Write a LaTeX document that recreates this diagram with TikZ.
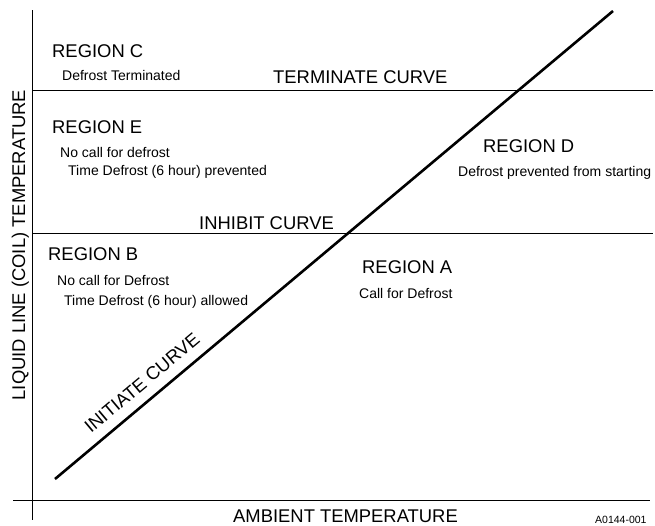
\documentclass[tikz,border=0pt]{standalone}
\usepackage{fontspec}
\setmainfont{Liberation Sans}
\usetikzlibrary{positioning}

\begin{document}
\begin{tikzpicture}[x=1pt, y=-1pt, inner sep=0pt,
    big/.style={font=\fontsize{18.4}{20}\selectfont, anchor=base west},
    small/.style={font=\fontsize{14}{16}\selectfont, anchor=base west},
    axis/.style={line width=1pt},
    curve/.style={line width=2.6pt}]

    \useasboundingbox (0,0) rectangle (655,525);

    % axes
    \coordinate (y_top) at (32,10);
    \coordinate (y_bot) at (32,520);
    \coordinate (x_left) at (13,500);
    \coordinate (x_right) at (650,500);
    \draw[axis] (y_top) -- (y_bot);
    \draw[axis] (x_left) -- (x_right);

    % terminate and inhibit curves
    \coordinate (term_l) at (32,90);
    \coordinate (term_r) at (653,90);
    \coordinate (inhib_l) at (32,233);
    \coordinate (inhib_r) at (653,233);
    \draw[axis] (term_l) -- (term_r);
    \draw[axis] (inhib_l) -- (inhib_r);

    % initiate curve
    \coordinate (init_start) at (55,479);
    \coordinate (init_end) at (613,11);
    \draw[curve] (init_start) -- (init_end);
    \node[font=\fontsize{18.4}{20}\selectfont, rotate=40] (init_label) at (142,383) {INITIATE CURVE};

    % regions
    \node[big] (region_c) at (52,57) {REGION C};
    \node[small] (c_text) at (62,80) {Defrost Terminated};
    \node[big] (term_label) at (273,83) {TERMINATE CURVE};

    \node[big] (region_e) at (52,133) {REGION E};
    \node[small] (e_text1) at (60,157) {No call for defrost};
    \node[small] (e_text2) at (68,175) {Time Defrost (6 hour) prevented};

    \node[big] (region_d) at (483,152) {REGION D};
    \node[small] (d_text) at (458,176) {Defrost prevented from starting};

    \node[big] (inhib_label) at (199,229) {INHIBIT CURVE};

    \node[big] (region_b) at (48,260) {REGION B};
    \node[small] (b_text1) at (57,285) {No call for Defrost};
    \node[small] (b_text2) at (64,305) {Time Defrost (6 hour) allowed};

    \node[big] (region_a) at (362,273) {REGION A};
    \node[small] (a_text) at (359,298) {Call for Defrost};

    % axis labels
    \node[font=\fontsize{18.4}{20}\selectfont, rotate=90, anchor=base] (y_label) at (25,245) {LIQUID LINE (COIL) TEMPERATURE};
    \node[big] (x_label) at (233,522) {AMBIENT TEMPERATURE};
    \node[font=\fontsize{10.5}{12}\selectfont, anchor=base west] (fig_id) at (595,523) {A0144-001};

\end{tikzpicture}
\end{document}
